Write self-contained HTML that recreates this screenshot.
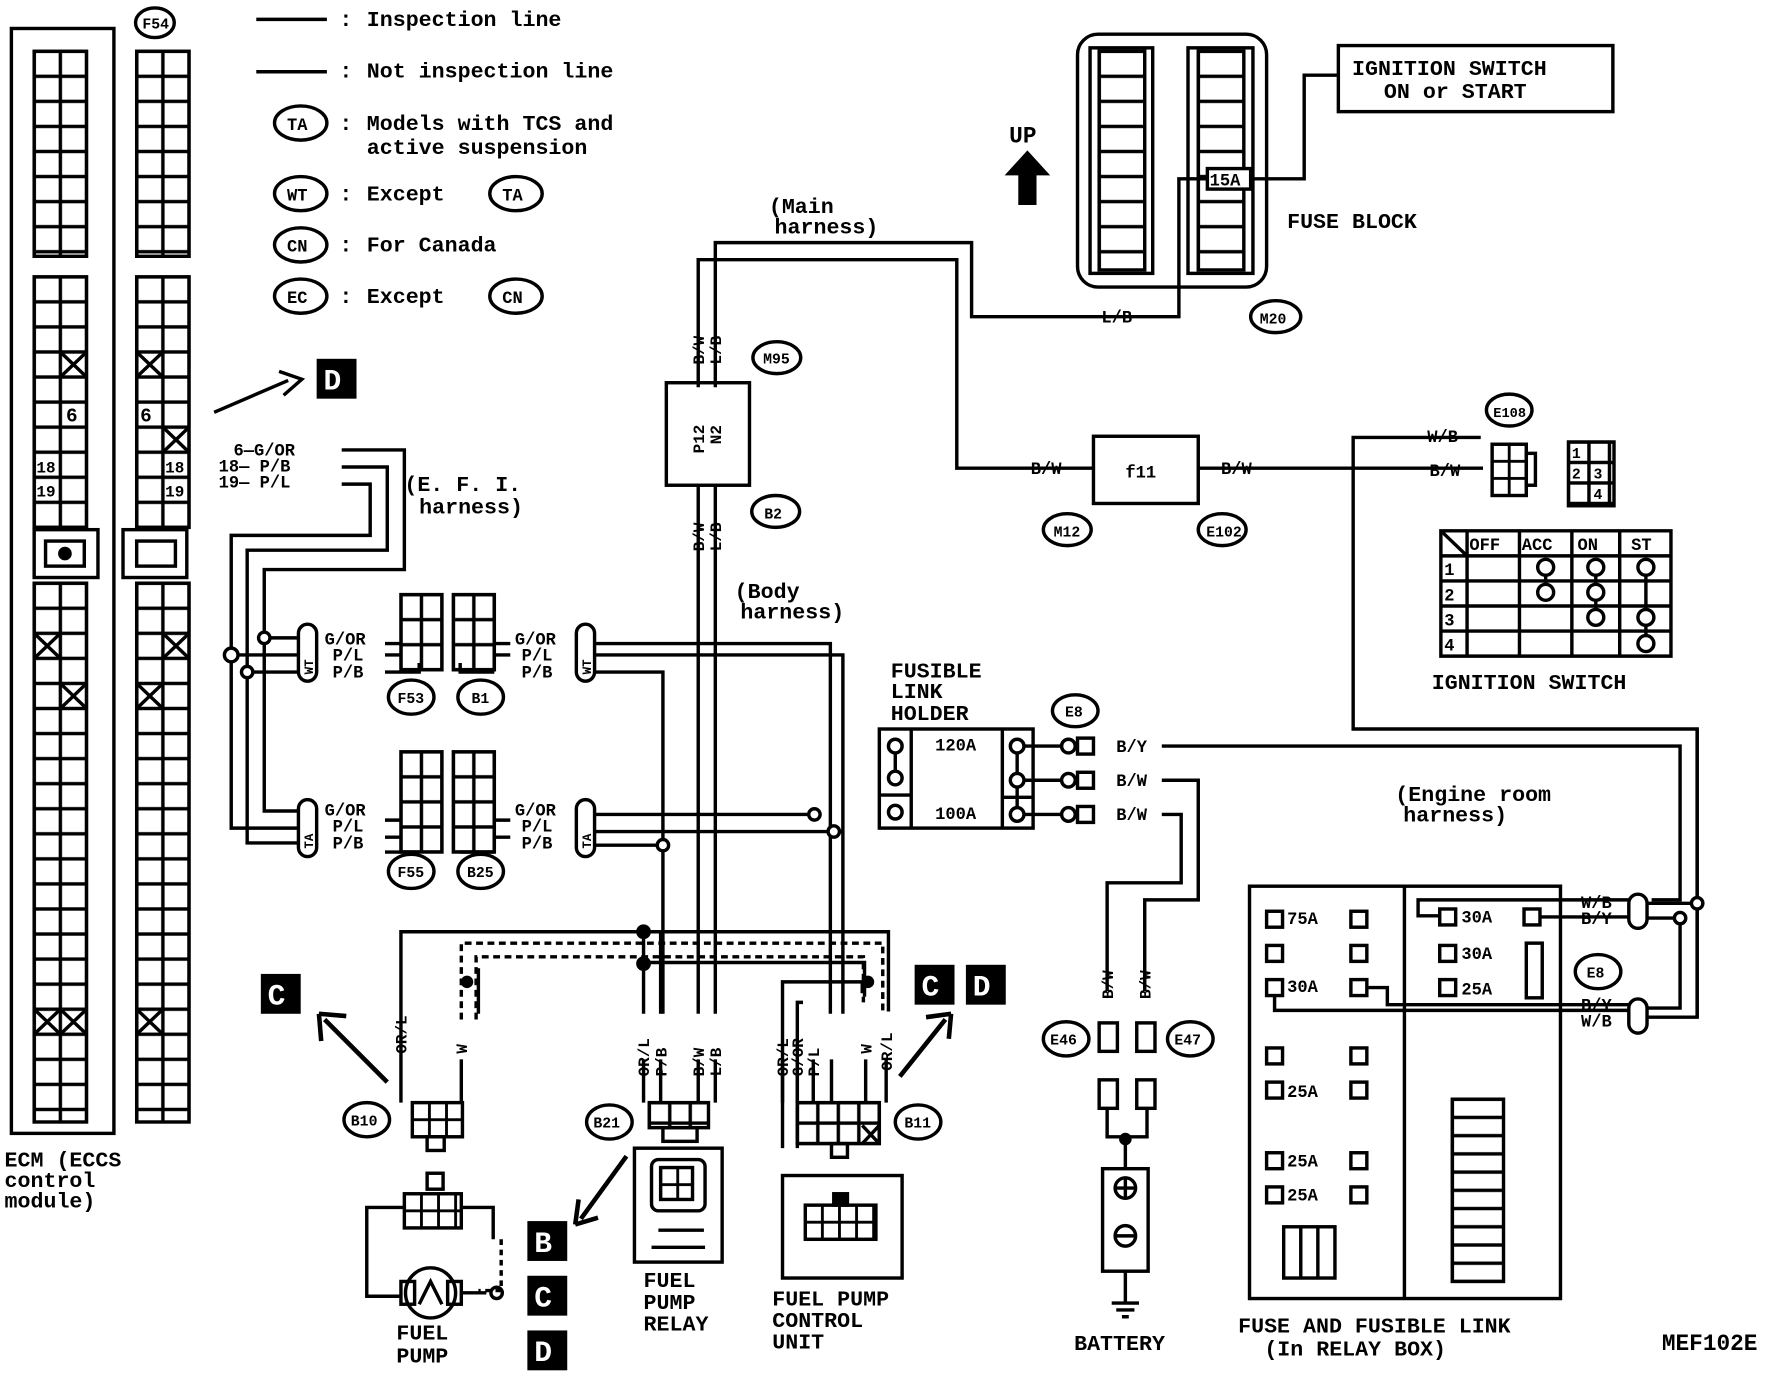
<!DOCTYPE html>
<html><head><meta charset="utf-8"><style>
html,body{margin:0;padding:0;background:#fff;}
svg{display:block;}
text{font-family:"Liberation Mono","DejaVu Sans Mono",monospace;font-weight:bold;fill:#000;}
</style></head><body>
<svg width="1786" height="1376" viewBox="0 0 1568 1208" preserveAspectRatio="none" xmlns="http://www.w3.org/2000/svg">
<defs>
<pattern id="g" width="23" height="22" patternUnits="userSpaceOnUse"><rect width="23" height="22" fill="#fff" stroke="#000" stroke-width="3"/></pattern>
<pattern id="g3" width="18" height="22" patternUnits="userSpaceOnUse"><rect width="18" height="22" fill="#fff" stroke="#000" stroke-width="3"/></pattern>
<pattern id="g5" width="15" height="15" patternUnits="userSpaceOnUse"><rect width="15" height="15" fill="#fff" stroke="#000" stroke-width="2.5"/></pattern>
<pattern id="g6" width="18" height="18" patternUnits="userSpaceOnUse"><rect width="18" height="18" fill="#fff" stroke="#000" stroke-width="3"/></pattern>
<pattern id="f" width="100" height="22" patternUnits="userSpaceOnUse"><rect width="100" height="22" fill="#fff" stroke="#000" stroke-width="3"/></pattern>
<pattern id="f2" width="100" height="16" patternUnits="userSpaceOnUse"><rect width="100" height="16" fill="#fff" stroke="#000" stroke-width="3"/></pattern>
</defs>
<rect width="1568" height="1208" fill="#fff"/>
<!-- grids via nested svg -->
<svg x="30" y="45" width="46" height="180"><rect width="100%" height="100%" fill="url(#g)"/></svg>
<svg x="30" y="243" width="46" height="220"><rect width="100%" height="100%" fill="url(#g)"/></svg>
<svg x="30" y="512" width="46" height="473"><rect width="100%" height="100%" fill="url(#g)"/></svg>
<svg x="120" y="45" width="46" height="180"><rect width="100%" height="100%" fill="url(#g)"/></svg>
<svg x="120" y="243" width="46" height="220"><rect width="100%" height="100%" fill="url(#g)"/></svg>
<svg x="120" y="512" width="46" height="473"><rect width="100%" height="100%" fill="url(#g)"/></svg>
<svg x="965" y="45" width="40" height="192"><rect width="100%" height="100%" fill="url(#f)"/></svg>
<svg x="1052" y="45" width="40" height="192"><rect width="100%" height="100%" fill="url(#f)"/></svg>
<svg x="1310" y="390" width="30" height="45"><rect width="100%" height="100%" fill="url(#g5)"/></svg>
<svg x="1377" y="388" width="40" height="56"><rect width="100%" height="100%" fill="url(#g6)"/></svg>
<svg x="352" y="522" width="36" height="66"><rect width="100%" height="100%" fill="url(#g3)"/></svg>
<svg x="398" y="522" width="36" height="66"><rect width="100%" height="100%" fill="url(#g3)"/></svg>
<svg x="352" y="660" width="36" height="88"><rect width="100%" height="100%" fill="url(#g3)"/></svg>
<svg x="398" y="660" width="36" height="88"><rect width="100%" height="100%" fill="url(#g3)"/></svg>
<svg x="362" y="968" width="44" height="30"><rect width="100%" height="100%" fill="url(#g5)"/></svg>
<svg x="570" y="968" width="52" height="22"><rect width="100%" height="100%" fill="url(#g6)"/></svg>
<svg x="580" y="1025" width="28" height="28"><rect width="100%" height="100%" fill="url(#g5)"/></svg>
<svg x="700" y="968" width="72" height="36"><rect width="100%" height="100%" fill="url(#g6)"/></svg>
<svg x="355" y="1048" width="50" height="30"><rect width="100%" height="100%" fill="url(#g5)"/></svg>
<svg x="707" y="1058" width="62" height="30"><rect width="100%" height="100%" fill="url(#g5)"/></svg>
<svg x="1275" y="965" width="45" height="160"><rect width="100%" height="100%" fill="url(#f2)"/></svg>
<g fill="none" stroke="#000" stroke-width="3">
<rect x="10" y="25" width="90" height="970"/>
<rect x="30" y="45" width="46" height="180"/><rect x="30" y="243" width="46" height="220"/><rect x="30" y="512" width="46" height="473"/>
<rect x="120" y="45" width="46" height="180"/><rect x="120" y="243" width="46" height="220"/><rect x="120" y="512" width="46" height="473"/>
<rect x="30" y="465" width="56" height="42" fill="#fff"/><rect x="40" y="475" width="34" height="22"/>
<rect x="108" y="465" width="56" height="42" fill="#fff"/><rect x="120" y="475" width="34" height="22"/>
<path d="M53 309l23 22M76 309l-23 22M120 309l23 22M143 309l-23 22M143 375l23 22M166 375l-23 22M30 556l23 22M53 556l-23 22M53 600l23 22M76 600l-23 22M143 556l23 22M166 556l-23 22M120 600l23 22M143 600l-23 22M30 886l23 22M53 886l-23 22M53 886l23 22M76 886l-23 22M120 886l23 22M143 886l-23 22"/>
<path d="M225 17h62M225 63h62"/>
<ellipse cx="264" cy="108" rx="23" ry="15"/><ellipse cx="264" cy="170" rx="23" ry="15"/><ellipse cx="453" cy="170" rx="23" ry="15"/>
<ellipse cx="264" cy="215" rx="23" ry="15"/><ellipse cx="264" cy="260" rx="23" ry="15"/><ellipse cx="453" cy="260" rx="23" ry="15"/>
<ellipse cx="136" cy="20" rx="17" ry="13"/>
<path d="M188 362l65-28M245 326l20 7-16 14"/>
<rect x="946" y="30" width="166" height="222" rx="18"/>
<rect x="957" y="42" width="55" height="198"/><rect x="965" y="45" width="40" height="192"/>
<rect x="1043" y="42" width="57" height="198"/><rect x="1052" y="45" width="40" height="192"/>
<rect x="1060" y="148" width="38" height="18" fill="#fff"/>
<rect x="1175" y="40" width="241" height="58"/>
<path d="M1098 157h47V66h30"/>
<ellipse cx="1120" cy="278" rx="22" ry="14"/>
<path d="M628 340V213h225v65h182V157h25"/>
<path d="M613 340V228h227v183h120M1052 411h250"/>
<rect x="960" y="383" width="92" height="59"/>
<rect x="585" y="336" width="73" height="90"/>
<ellipse cx="682" cy="314" rx="21" ry="14"/><ellipse cx="681" cy="449" rx="21" ry="14"/>
<ellipse cx="937" cy="465" rx="21" ry="14"/><ellipse cx="1073" cy="465" rx="21" ry="14"/>
<path d="M613 426V890M628 426V890"/>
<ellipse cx="1325" cy="360" rx="20" ry="14"/>
<rect x="1310" y="390" width="30" height="45"/>
<rect x="1340" y="398" width="8" height="28"/>
<path d="M1300 384h-112V640h302V893h-50"/>
<rect x="1377" y="388" width="40" height="56"/>
<path d="M1265 466h202v110h-202zM1265 488h202M1265 510h202M1265 532h202M1265 554h202M1288 466v110M1334 466v110M1380 466v110M1422 466v110M1265 466l23 22"/>
<circle cx="1357" cy="498" r="7"/><circle cx="1401" cy="498" r="7"/><circle cx="1445" cy="498" r="7"/>
<circle cx="1357" cy="520" r="7"/><circle cx="1401" cy="520" r="7"/>
<circle cx="1401" cy="542" r="7"/><circle cx="1445" cy="542" r="7"/><circle cx="1445" cy="565" r="7"/>
<path d="M1357 505v8M1401 505v8M1401 527v8M1445 505v30M1445 549v9"/>
<!-- EFI harness -->
<path d="M300 395h55v105H232V712h35"/>
<path d="M300 410h40v73H217V740h50"/>
<path d="M300 425h25v45H203V727h64"/>
<path d="M232 560h35M203 575h64M217 590h50"/>
<circle cx="232" cy="560" r="5" fill="#fff"/><circle cx="203" cy="575" r="6" fill="#fff"/><circle cx="217" cy="590" r="5" fill="#fff"/>
<rect x="262" y="548" width="16" height="50" rx="8" fill="#fff"/><rect x="262" y="702" width="16" height="50" rx="8" fill="#fff"/>
<rect x="506" y="548" width="16" height="50" rx="8" fill="#fff"/><rect x="506" y="702" width="16" height="50" rx="8" fill="#fff"/>
<rect x="352" y="522" width="36" height="66"/><rect x="398" y="522" width="36" height="66"/>
<rect x="352" y="660" width="36" height="88"/><rect x="398" y="660" width="36" height="88"/>
<path d="M338 565h14M338 575h14M338 590h30v-8M434 565h14M434 575h14M434 590h-30v-8M338 720h14M338 735h14M338 748h30M434 720h14M434 735h14M434 748h-30"/>
<ellipse cx="361" cy="612" rx="20" ry="15"/><ellipse cx="422" cy="612" rx="20" ry="15"/>
<ellipse cx="361" cy="765" rx="20" ry="15"/><ellipse cx="422" cy="765" rx="20" ry="15"/>
<path d="M522 565h207V890M522 575h218V890M522 590h60V890M522 715h193M522 730h218M522 742h60"/>
<circle cx="715" cy="715" r="5" fill="#fff"/><circle cx="732" cy="730" r="5" fill="#fff"/><circle cx="582" cy="742" r="5" fill="#fff"/>
<!-- bottom wires -->
<path d="M352 968V818h428v70M565 818V890M580 818V890"/>
<path d="M405 895V828h370v60" stroke-dasharray="6,4"/>
<path d="M418 895V840h340v40" stroke-dasharray="6,4"/>
<path d="M565 845h194v30M420 850v40"/>
<circle cx="565" cy="818" r="5" fill="#000"/><circle cx="565" cy="846" r="5" fill="#000"/><circle cx="410" cy="862" r="4" fill="#000"/><circle cx="762" cy="862" r="4" fill="#000"/>
<path d="M687 1008V862h70v10M700 1008V880h5"/>
<path d="M565 930V968M580 930V968M613 930V968M628 930V968M687 930V968M700 930V968M714 930V968M730 930V968M760 930V968M778 930V968"/>
<path d="M405 930V968"/>
<ellipse cx="322" cy="983" rx="20" ry="15"/>
<rect x="362" y="968" width="44" height="30"/><rect x="375" y="998" width="15" height="12"/>
<rect x="355" y="1048" width="50" height="30"/><rect x="375" y="1030" width="14" height="14"/>
<path d="M355 1060H322v78h30M405 1060h28v28"/>
<path d="M440 1088v45h-20" stroke-dasharray="5,4"/>
<circle cx="378" cy="1135" r="22"/><rect x="352" y="1125" width="12" height="20"/><rect x="393" y="1125" width="12" height="20"/>
<path d="M405 1135h22M368 1145l10-20 10 20"/>
<circle cx="436" cy="1135" r="5"/>
<ellipse cx="535" cy="985" rx="20" ry="15"/>
<rect x="570" y="968" width="52" height="22"/><rect x="582" y="990" width="30" height="12"/>
<rect x="557" y="1008" width="77" height="100"/>
<rect x="572" y="1018" width="47" height="45" rx="6"/><rect x="580" y="1025" width="28" height="28"/>
<path d="M578 1080h40M572 1095h47"/>
<ellipse cx="806" cy="985" rx="20" ry="15"/>
<rect x="700" y="968" width="72" height="36"/><rect x="730" y="1004" width="14" height="12"/>
<path d="M757 988l15 16M772 988l-15 16"/>
<rect x="687" y="1032" width="105" height="90"/><rect x="707" y="1058" width="62" height="30"/><rect x="732" y="1048" width="12" height="10" fill="#000"/>
<path d="M340 950l-55-55M280 890l2 24M280 890l24 2" stroke-width="4"/>
<path d="M790 945l40-50M835 890l-22 3M835 890l-2 22" stroke-width="4"/>
<path d="M550 1015l-40 55M505 1075l3-22M505 1075l20-6" stroke-width="4"/>
<!-- fusible link holder -->
<rect x="772" y="640" width="135" height="87"/>
<path d="M800 640v87M880 640v87M772 698h28M880 700h27"/>
<circle cx="786" cy="655" r="6"/><circle cx="786" cy="683" r="6"/><circle cx="786" cy="713" r="6"/>
<circle cx="893" cy="655" r="6"/><circle cx="893" cy="685" r="6"/><circle cx="893" cy="715" r="6"/>
<path d="M786 661v16M893 661v18M893 691v18M899 655h32M899 685h32M899 715h32"/>
<ellipse cx="944" cy="624" rx="20" ry="14"/>
<circle cx="938" cy="655" r="6"/><circle cx="938" cy="685" r="6"/><circle cx="938" cy="715" r="6"/>
<rect x="946" y="648" width="14" height="14"/><rect x="946" y="678" width="14" height="14"/><rect x="946" y="708" width="14" height="14"/>
<path d="M1020 655h455V790h-25"/>
<path d="M1020 685h32V790h-47V870"/>
<path d="M1020 715h17V775h-65V870"/>
<ellipse cx="936" cy="912" rx="20" ry="15"/><ellipse cx="1045" cy="912" rx="20" ry="15"/>
<rect x="965" y="898" width="16" height="25"/><rect x="998" y="898" width="16" height="25"/>
<rect x="965" y="948" width="16" height="25"/><rect x="998" y="948" width="16" height="25"/>
<path d="M972 973v25h35v-25M988 998v28"/>
<circle cx="988" cy="1000" r="4" fill="#000"/>
<rect x="968" y="1026" width="40" height="90"/>
<circle cx="988" cy="1043" r="9"/><circle cx="988" cy="1085" r="9"/>
<path d="M980 1043h16M988 1035v16M980 1085h16M988 1116v28M976 1144h24M980 1150h16M985 1156h6"/>
<!-- relay box -->
<rect x="1097" y="778" width="273" height="362"/>
<path d="M1233 778v362"/>
<rect x="1127" y="1077" width="45" height="45"/><path d="M1142 1077v45M1157 1077v45"/>
<rect x="1275" y="965" width="45" height="160"/>
<path d="M1430 790h-185v14h20M1352 805h78M1200 867h18v15h212M1119 875v12h311"/>
<path d="M1490 640V893M1475 806v79h-40M1445 806h30M1445 793h45"/>
<circle cx="1490" cy="793" r="5" fill="#fff"/><circle cx="1475" cy="806" r="5" fill="#fff"/>
<rect x="1430" y="785" width="16" height="30" rx="8" fill="#fff"/><rect x="1430" y="877" width="16" height="30" rx="8" fill="#fff"/>
<ellipse cx="1403" cy="853" rx="20" ry="15"/>
<rect x="1340" y="828" width="14" height="48"/>
<rect x="1112" y="800" width="14" height="14"/><rect x="1186" y="800" width="14" height="14"/>
<rect x="1112" y="830" width="14" height="14"/><rect x="1186" y="830" width="14" height="14"/>
<rect x="1112" y="860" width="14" height="14"/><rect x="1186" y="860" width="14" height="14"/>
<rect x="1112" y="920" width="14" height="14"/><rect x="1186" y="920" width="14" height="14"/>
<rect x="1112" y="950" width="14" height="14"/><rect x="1186" y="950" width="14" height="14"/>
<rect x="1112" y="1012" width="14" height="14"/><rect x="1186" y="1012" width="14" height="14"/>
<rect x="1112" y="1042" width="14" height="14"/><rect x="1186" y="1042" width="14" height="14"/>
<rect x="1264" y="798" width="14" height="14"/><rect x="1338" y="798" width="14" height="14"/>
<rect x="1264" y="830" width="14" height="14"/><rect x="1264" y="860" width="14" height="14"/>
</g>
<g font-size="19">
<text x="322" y="23">Inspection line</text>
<text x="298" y="68">:</text><text x="298" y="23">:</text>
<text x="322" y="68">Not inspection line</text>
<text x="298" y="114">:</text><text x="322" y="114">Models with TCS and</text>
<text x="322" y="135">active suspension</text>
<text x="298" y="176">:</text><text x="322" y="176">Except</text>
<text x="298" y="221">:</text><text x="322" y="221">For Canada</text>
<text x="298" y="266">:</text><text x="322" y="266">Except</text>
<text x="1187" y="66">IGNITION SWITCH</text>
<text x="1215" y="86">ON or START</text>
<text x="1130" y="200">FUSE BLOCK</text>
<text x="675" y="187">(Main</text><text x="680" y="205">harness)</text>
<text x="645" y="525">(Body</text><text x="650" y="543">harness)</text>
<text x="355" y="431">(E. F. I.</text><text x="368" y="451">harness)</text>
<text x="782" y="595">FUSIBLE</text><text x="782" y="613">LINK</text><text x="782" y="632">HOLDER</text>
<text x="1225" y="703">(Engine room</text><text x="1232" y="721">harness)</text>
<text x="1257" y="605">IGNITION SWITCH</text>
<text x="4" y="1024">ECM (ECCS</text><text x="4" y="1042">control</text><text x="4" y="1060">module)</text>
<text x="348" y="1176">FUEL</text><text x="348" y="1196">PUMP</text>
<text x="565" y="1130">FUEL</text><text x="565" y="1149">PUMP</text><text x="565" y="1168">RELAY</text>
<text x="678" y="1146">FUEL PUMP</text><text x="678" y="1165">CONTROL</text><text x="678" y="1184">UNIT</text>
<text x="943" y="1185">BATTERY</text>
<text x="1087" y="1170">FUSE AND FUSIBLE LINK</text>
<text x="1110" y="1190">(In RELAY BOX)</text>
</g>
<g font-size="15">
<text x="252" y="114">TA</text><text x="252" y="176">WT</text><text x="441" y="176">TA</text><text x="252" y="221">CN</text><text x="252" y="266">EC</text><text x="441" y="266">CN</text>
<text x="125" y="25" font-size="13">F54</text>
<text x="1062" y="163">15A</text>
<text x="967" y="283">L/B</text><text x="1106" y="284" font-size="13">M20</text>
<text x="670" y="319" font-size="13">M95</text><text x="671" y="455" font-size="13">B2</text>
<text x="925" y="471" font-size="13">M12</text><text x="1059" y="471" font-size="13">E102</text>
<text x="905" y="416">B/W</text><text x="1072" y="416">B/W</text><text x="988" y="419">f11</text>
<text x="1253" y="388">W/B</text><text x="1255" y="418">B/W</text>
<text x="1311" y="366" font-size="12">E108</text>
<text x="1380" y="402" font-size="13">1</text><text x="1380" y="420" font-size="13">2</text><text x="1399" y="420" font-size="13">3</text><text x="1399" y="438" font-size="13">4</text>
<text x="1290" y="483">OFF</text><text x="1336" y="483">ACC</text><text x="1385" y="483">ON</text><text x="1432" y="483">ST</text>
<text x="1268" y="505">1</text><text x="1268" y="527">2</text><text x="1268" y="549">3</text><text x="1268" y="571">4</text>
<text x="205" y="400">6—G/OR</text><text x="192" y="414">18— P/B</text><text x="192" y="428">19— P/L</text>
<text x="285" y="566">G/OR</text><text x="292" y="580">P/L</text><text x="292" y="595">P/B</text>
<text x="452" y="566">G/OR</text><text x="458" y="580">P/L</text><text x="458" y="595">P/B</text>
<text x="285" y="716">G/OR</text><text x="292" y="730">P/L</text><text x="292" y="745">P/B</text>
<text x="452" y="716">G/OR</text><text x="458" y="730">P/L</text><text x="458" y="745">P/B</text>
<text x="349" y="617" font-size="13">F53</text><text x="414" y="617" font-size="13">B1</text>
<text x="349" y="770" font-size="13">F55</text><text x="410" y="770" font-size="13">B25</text>
<text x="821" y="659">120A</text><text x="821" y="719">100A</text>
<text x="980" y="660">B/Y</text><text x="980" y="690">B/W</text><text x="980" y="720">B/W</text>
<text x="935" y="629" font-size="13">E8</text>
<text x="1130" y="811">75A</text><text x="1130" y="871">30A</text><text x="1130" y="963">25A</text><text x="1130" y="1024">25A</text><text x="1130" y="1054">25A</text>
<text x="1283" y="810">30A</text><text x="1283" y="842">30A</text><text x="1283" y="873">25A</text>
<text x="1388" y="797">W/B</text><text x="1388" y="811">B/Y</text><text x="1388" y="887">B/Y</text><text x="1388" y="901">W/B</text>
<text x="1393" y="858" font-size="13">E8</text>
<text x="922" y="917" font-size="13">E46</text><text x="1031" y="917" font-size="13">E47</text>
<text x="308" y="988" font-size="13">B10</text><text x="521" y="990" font-size="13">B21</text><text x="794" y="990" font-size="13">B11</text>
<text x="886" y="125" font-size="20">UP</text>
<text x="1459" y="1185" font-size="20" font-family="Liberation Sans,sans-serif">MEF102E</text>
<text x="58" y="370" font-size="17">6</text><text x="123" y="370" font-size="17">6</text>
<text x="32" y="415" font-size="14">18</text><text x="32" y="436" font-size="14">19</text>
<text x="145" y="415" font-size="14">18</text><text x="145" y="436" font-size="14">19</text>
</g>
<g font-size="14">
<text transform="translate(618,320) rotate(-90)">B/W</text><text transform="translate(633,320) rotate(-90)">L/B</text>
<text transform="translate(618,398) rotate(-90)">P12</text><text transform="translate(633,390) rotate(-90)">N2</text>
<text transform="translate(618,484) rotate(-90)">B/W</text><text transform="translate(633,484) rotate(-90)">L/B</text>
<text transform="translate(357,925) rotate(-90)">OR/L</text><text transform="translate(410,925) rotate(-90)">W</text>
<text transform="translate(570,945) rotate(-90)">OR/L</text><text transform="translate(585,945) rotate(-90)">P/B</text>
<text transform="translate(618,945) rotate(-90)">B/W</text><text transform="translate(633,945) rotate(-90)">L/B</text>
<text transform="translate(692,945) rotate(-90)">OR/L</text><text transform="translate(705,945) rotate(-90)">G/OR</text><text transform="translate(719,945) rotate(-90)">P/L</text>
<text transform="translate(765,925) rotate(-90)">W</text><text transform="translate(783,940) rotate(-90)">OR/L</text>
<text transform="translate(977,877) rotate(-90)">B/W</text><text transform="translate(1010,877) rotate(-90)">B/W</text>
<text transform="translate(275,592) rotate(-90)" font-size="11">WT</text><text transform="translate(519,592) rotate(-90)" font-size="11">WT</text>
<text transform="translate(275,745) rotate(-90)" font-size="11">TA</text><text transform="translate(519,745) rotate(-90)" font-size="11">TA</text>
</g>
<rect x="278" y="315" width="35" height="35" fill="#000"/><text x="284" y="342" font-size="26" style="fill:#fff">D</text>
<rect x="229" y="855" width="35" height="35" fill="#000"/><text x="235" y="882" font-size="26" style="fill:#fff">C</text>
<rect x="803" y="847" width="35" height="35" fill="#000"/><text x="809" y="874" font-size="26" style="fill:#fff">C</text>
<rect x="848" y="847" width="35" height="35" fill="#000"/><text x="854" y="874" font-size="26" style="fill:#fff">D</text>
<rect x="463" y="1072" width="35" height="35" fill="#000"/><text x="469" y="1099" font-size="26" style="fill:#fff">B</text>
<rect x="463" y="1120" width="35" height="35" fill="#000"/><text x="469" y="1147" font-size="26" style="fill:#fff">C</text>
<rect x="463" y="1168" width="35" height="35" fill="#000"/><text x="469" y="1195" font-size="26" style="fill:#fff">D</text>
<path d="M902 132l-20 22h12v26h16v-26h12z" fill="#000"/>
<circle cx="57" cy="486" r="6" fill="#000"/>
</svg>
</body></html>
